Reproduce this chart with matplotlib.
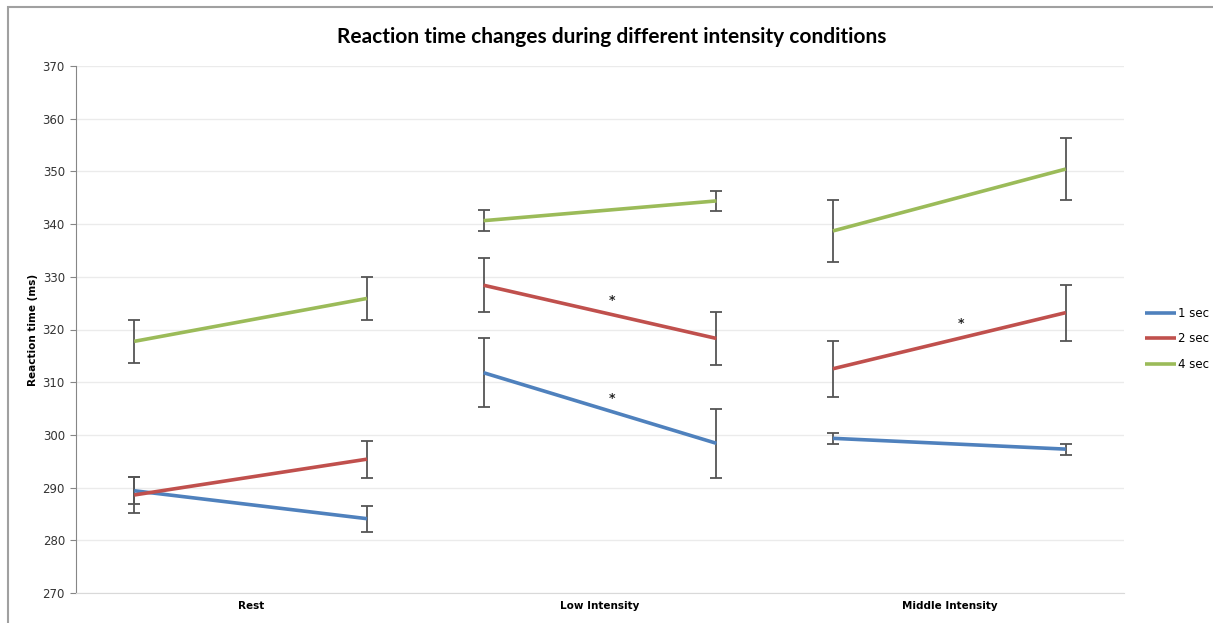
import matplotlib
matplotlib.use('Agg')
import matplotlib.pyplot as plt
from matplotlib.patches import Rectangle

# pre/post value for each condition, one array per interval
conditions = ['Rest', 'Low Intensity', 'Middle Intensity']
series = ['1 sec', '2 sec', '4 sec']

sec1_vals = [289.4, 284.1, 311.8, 298.4, 299.35, 297.3]
sec1_err = [2.6, 2.5, 6.6, 6.6, 1.0, 1.05]
sec2_vals = [288.6, 295.4, 328.4, 318.3, 312.55, 323.2]
sec2_err = [3.4, 3.5, 5.1, 5.05, 5.3, 5.3]
sec4_vals = [317.75, 325.9, 340.65, 344.4, 338.7, 350.45]
sec4_err = [4.1, 4.15, 1.95, 1.9, 5.9, 5.95]

star_x = [4.6, 4.6, 7.6]
star_y = [325.5, 306.9, 321.2]

colors = ['#4F81BD', '#C0504D', '#9BBB59']

fig = plt.figure(figsize=(12.13, 6.23), dpi=100)
fig.patches.append(Rectangle((8 / 1213, -0.1), 1.2, 1.1 - 7 / 623,
                             transform=fig.transFigure, fill=False,
                             edgecolor='#a0a0a0', linewidth=1.5))

ax = fig.add_axes([76 / 1213, 30 / 623, 1048 / 1213, 527 / 623])

all_vals = [sec1_vals, sec2_vals, sec4_vals]
all_err = [sec1_err, sec2_err, sec4_err]
for vals, errs, col, name in zip(all_vals, all_err, colors, series):
    for g in range(3):
        xs = [3 * g + 0.5, 3 * g + 2.5]
        ys = vals[2 * g:2 * g + 2]
        es = errs[2 * g:2 * g + 2]
        ax.errorbar(xs, ys, yerr=es, fmt='none', ecolor='#555555',
                    elinewidth=1.3, capsize=4, capthick=1.3, zorder=2)
        ax.plot(xs, ys, color=col, linewidth=2.6, solid_capstyle='butt',
                label=name if g == 0 else None, zorder=3)

for sx, sy in zip(star_x, star_y):
    ax.text(sx, sy, '*', ha='center', va='center', fontsize=9,
            fontweight='bold', color='#222222')

ax.set_xlim(0, 9)
ax.set_ylim(270, 370)
ax.set_yticks(range(270, 371, 10))
ax.set_xticks([1.5, 4.5, 7.5])
ax.set_xticklabels(conditions, fontsize=7.5, fontweight='bold')
ax.tick_params(axis='x', length=0, pad=6)
ax.tick_params(axis='y', length=4, color='#868686', labelsize=8.5,
               labelcolor='#333333', pad=4)
ax.grid(axis='y', color='#ebebeb', linewidth=1)
ax.set_axisbelow(True)
for s in ['top', 'right']:
    ax.spines[s].set_visible(False)
ax.spines['left'].set_color('#868686')
ax.spines['bottom'].set_color('#d9d9d9')
ax.set_ylabel('Reaction time (ms)', fontsize=7.5, fontweight='bold', labelpad=3)

fig.text(0.504, 1 - 37 / 623, 'Reaction time changes during different intensity conditions',
         ha='center', va='center', fontsize=15, fontweight='bold', family='Lato')

leg = ax.legend(loc='center left', bbox_to_anchor=(1.01, 0.482), frameon=False,
                fontsize=8.5, handlelength=2.6, handletextpad=0.2, labelspacing=1.05)

plt.savefig('out.png', dpi=100)
